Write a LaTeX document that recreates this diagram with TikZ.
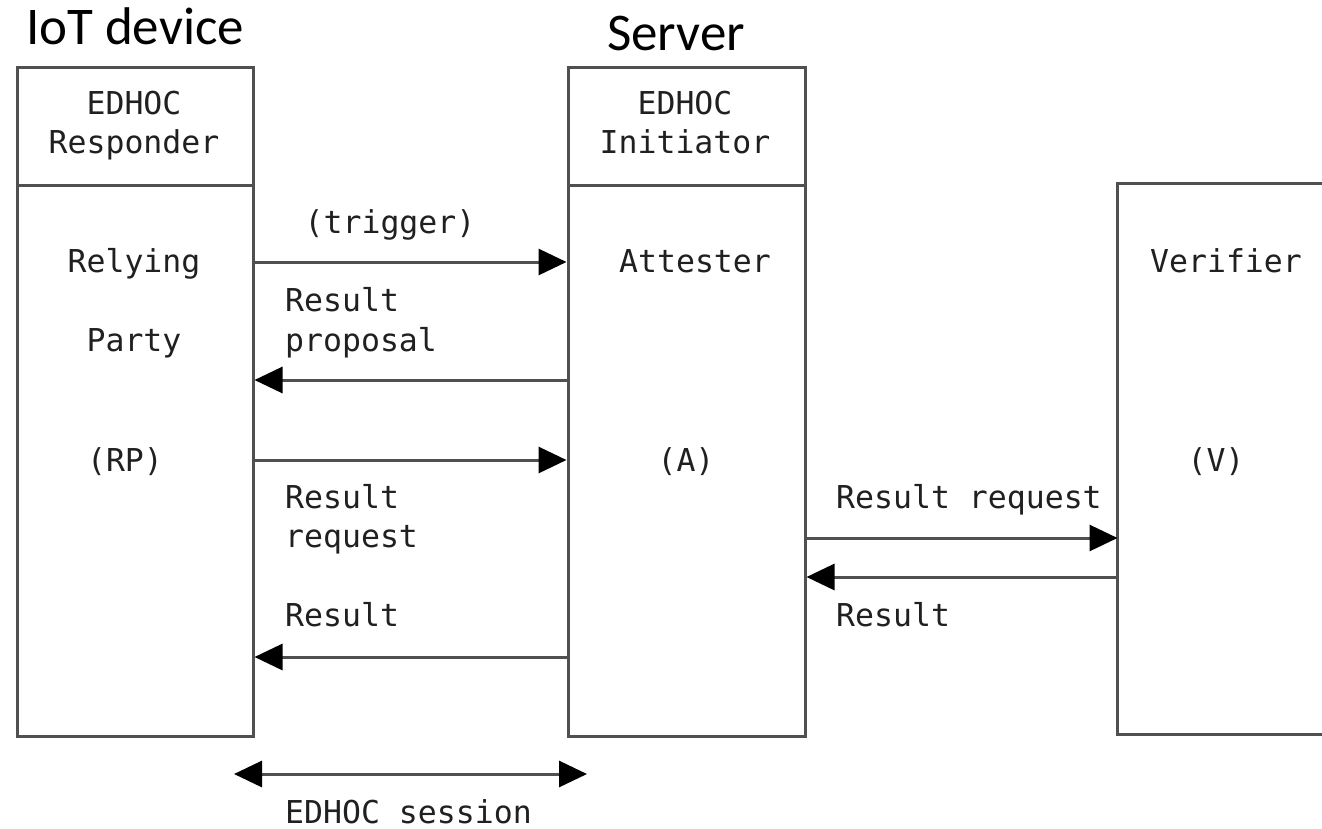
\documentclass[tikz,border=0pt]{standalone}
\usepackage{fontspec}
\setmonofont{DejaVu Sans Mono}
\newfontfamily\titlefont{Carlito}
\usetikzlibrary{arrows.meta}
\definecolor{linegray}{HTML}{505050}
\definecolor{txt}{HTML}{202020}
\begin{document}
\begin{tikzpicture}[x=1pt,y=-1pt,
  box/.style={draw=linegray, line width=3pt, inner sep=0pt, anchor=north west},
  lbl/.style={font=\ttfamily\fontsize{31.5}{39.5}\selectfont, text=txt, inner sep=0pt},
  ttl/.style={font=\titlefont\fontsize{53}{60}\selectfont, text=black, inner sep=0pt, anchor=base},
  msg/.style={draw=linegray, line width=3pt, -{Triangle[length=28pt,width=26pt,color=black]}},
  dmsg/.style={draw=linegray, line width=3pt, {Triangle[length=28pt,width=26pt,color=black]}-{Triangle[length=28pt,width=26pt,color=black]}}
]
\useasboundingbox (0,0) rectangle (1322,828);
% titles
\node[ttl] (t1) at (135,44) {IoT device};
\node[ttl] (t2) at (676,50) {Server};
% boxes
\node[box, minimum width=236pt, minimum height=118pt] (rph) at (15.5,65.5) {};
\node[box, minimum width=236pt, minimum height=551pt] (rpb) at (15.5,183.5) {};
\node[box, minimum width=237pt, minimum height=118pt] (sh) at (566.5,65.5) {};
\node[box, minimum width=237pt, minimum height=551pt] (sb) at (566.5,183.5) {};
\node[inner sep=0pt, anchor=north west, minimum width=230pt, minimum height=551pt] (vb) at (1117.5,183.5) {};
\draw[linegray, line width=3pt] (vb.north east) -- (vb.north west) -- (vb.south west) -- (vb.south east);
% box texts
\node[lbl, anchor=base] (e1) at (134,114) {EDHOC};
\node[lbl, anchor=base] (r1) at (134,153) {Responder};
\node[lbl, anchor=base] (e2) at (685,114) {EDHOC};
\node[lbl, anchor=base] (i2) at (685,153) {Initiator};
\node[lbl, anchor=base] (rel) at (134,272) {Relying};
\node[lbl, anchor=base] (par) at (134,351) {Party};
\node[lbl, anchor=base] (rp) at (125,471) {(RP)};
\node[lbl, anchor=base] (att) at (695,272) {Attester};
\node[lbl, anchor=base] (aa) at (686,471) {(A)};
\node[lbl, anchor=base] (ver) at (1226,272) {Verifier};
\node[lbl, anchor=base] (vv) at (1216,471) {(V)};
% message labels
\node[lbl, anchor=base] (trig) at (390,233) {(trigger)};
\node[lbl, anchor=base west] (rprop1) at (285,311) {Result};
\node[lbl, anchor=base west] (rprop2) at (285,351) {proposal};
\node[lbl, anchor=base west] (rreq1) at (285,508) {Result};
\node[lbl, anchor=base west] (rreq2) at (285,547) {request};
\node[lbl, anchor=base west] (res1) at (285,626) {Result};
\node[lbl, anchor=base west] (rreqv) at (836,508) {Result request};
\node[lbl, anchor=base west] (resv) at (836,626) {Result};
\node[lbl, anchor=base west] (sess) at (285,823) {EDHOC session};
% messages
\coordinate (y1) at (0,262);
\coordinate (y2) at (0,380);
\coordinate (y3) at (0,460);
\coordinate (y4) at (0,657);
\coordinate (y5) at (0,538);
\coordinate (y6) at (0,577);
\draw[msg] (rpb.east |- y1) -- (sb.west |- y1);
\draw[msg] (sb.west |- y2) -- (rpb.east |- y2);
\draw[msg] (rpb.east |- y3) -- (sb.west |- y3);
\draw[msg] (sb.west |- y4) -- (rpb.east |- y4);
\draw[msg] (sb.east |- y5) -- (vb.west |- y5);
\draw[msg] (vb.west |- y6) -- (sb.east |- y6);
\coordinate (sl) at (234,774);
\coordinate (sr) at (587,774);
\draw[dmsg] (sl) -- (sr);
\end{tikzpicture}
\end{document}
